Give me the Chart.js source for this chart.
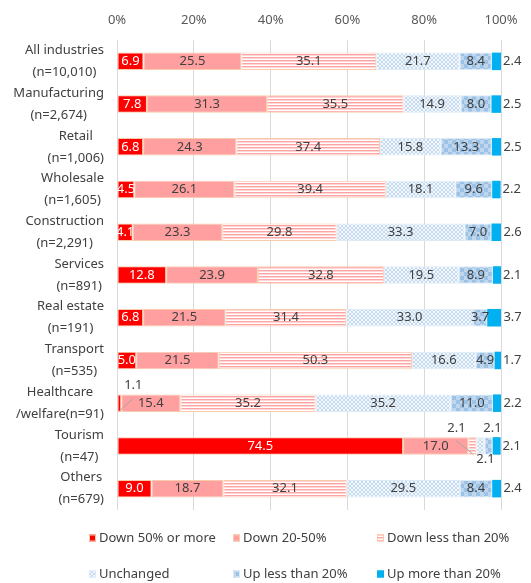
<!DOCTYPE html>
<html>
<head>
<meta charset="utf-8">
<script src="https://cdn.jsdelivr.net/npm/chart.js@4.4.1/dist/chart.umd.min.js"></script>
<style>
  html, body { margin: 0; padding: 0; background: #ffffff; }
  #wrap { width: 531px; height: 583px; position: relative; }
</style>
</head>
<body>
<div id="wrap"><canvas id="c" width="531" height="583"></canvas></div>
<script>
// Industries (two-line labels) and the share of firms per sales-change band, in %
const industries = [
  ["All industries", "(n=10,010)"],
  ["Manufacturing", "(n=2,674)"],
  ["Retail", "(n=1,006)"],
  ["Wholesale", "(n=1,605)"],
  ["Construction", "(n=2,291)"],
  ["Services", "(n=891)"],
  ["Real estate", "(n=191)"],
  ["Transport", "(n=535)"],
  ["Healthcare", "/welfare(n=91)"],
  ["Tourism", "(n=47)"],
  ["Others", "(n=679)"]
];
const down50OrMore   = [6.9, 7.8, 6.8, 4.5, 4.1, 12.8, 6.8, 5.0, 1.1, 74.5, 9.0];
const down20to50     = [25.5, 31.3, 24.3, 26.1, 23.3, 23.9, 21.5, 21.5, 15.4, 17.0, 18.7];
const downUnder20    = [35.1, 35.5, 37.4, 39.4, 29.8, 32.8, 31.4, 50.3, 35.2, 2.1, 32.1];
const unchanged      = [21.7, 14.9, 15.8, 18.1, 33.3, 19.5, 33.0, 16.6, 35.2, 2.1, 29.5];
const upUnder20      = [8.4, 8.0, 13.3, 9.6, 7.0, 8.9, 3.7, 4.9, 11.0, 2.1, 8.4];
const upOver20       = [2.4, 2.5, 2.5, 2.2, 2.6, 2.1, 3.7, 1.7, 2.2, 2.1, 2.4];
const seriesNames = ["Down 50% or more", "Down 20-50%", "Down less than 20%",
                     "Unchanged", "Up less than 20%", "Up more than 20%"];
const tickValues = [0, 20, 40, 60, 80, 100];

const FONT = "'Noto Sans', 'DejaVu Sans', sans-serif";
const TEXT = '#404040';

const canvas = document.getElementById('c');
const ctx = canvas.getContext('2d');

// small tiles for the patterned fills
function makeTile(w, h, paint) {
  const t = document.createElement('canvas');
  t.width = w; t.height = h;
  paint(t.getContext('2d'));
  return ctx.createPattern(t, 'repeat');
}
const stripeFill = makeTile(1, 3, g => {
  g.fillStyle = '#ffffff'; g.fillRect(0, 0, 1, 3);
  g.fillStyle = '#FFA4A4'; g.fillRect(0, 0, 1, 1);
  g.fillStyle = '#FFD6D6'; g.fillRect(0, 1, 1, 1);
});
const meshFill = makeTile(4, 4, g => {
  g.fillStyle = '#F4F8FD'; g.fillRect(0, 0, 4, 4);
  g.fillStyle = '#C3DAF0';
  for (let i = 0; i < 4; i++) { g.fillRect(i, i, 1, 1); g.fillRect(3 - i, i, 1, 1); }
});
const checkFill = makeTile(8, 8, g => {
  g.fillStyle = '#BED6EE'; g.fillRect(0, 0, 8, 8);
  g.fillStyle = '#9CC2E6'; g.fillRect(0, 0, 4, 4); g.fillRect(4, 4, 4, 4);
});

const seriesValues = [down50OrMore, down20to50, downUnder20, unchanged, upUnder20, upOver20];
const fills   = ['#FF0000', '#FF9F9F', stripeFill, meshFill, checkFill, '#00B0F0'];
const borders = ['#F8CBAD', '#F8CBAD', '#F8CBAD', '#DDEBF7', '#DDEBF7', '#00B0F0'];

// labels that sit off their slice: offsets from slice centre, optional leader line
const callouts = {
  '0,8': { dx: 14, dy: -18, line: true },
  '2,9': { dx: -16, dy: -18, line: true },
  '3,9': { dx: 5, dy: 13 },
  '4,9': { dx: 4, dy: -18 }
};

const valueLabels = {
  id: 'valueLabels',
  afterDatasetsDraw(chart) {
    const c = chart.ctx;
    c.save();
    c.font = '13px ' + FONT;
    c.textBaseline = 'middle';
    chart.data.datasets.forEach((ds, di) => {
      const meta = chart.getDatasetMeta(di);
      meta.data.forEach((bar, i) => {
        const v = ds.data[i];
        const p = bar.getProps(['x', 'y', 'base', 'height'], true);
        const cx = (p.x + p.base) / 2;
        const txt = v.toFixed(1);
        const co = callouts[di + ',' + i];
        if (di === seriesValues.length - 1) {
          c.fillStyle = TEXT; c.textAlign = 'left';
          c.fillText(txt, p.x + 2, p.y);
        } else if (co) {
          const lx = cx + co.dx, ly = p.y + co.dy;
          if (co.line) {
            c.strokeStyle = '#A6A6A6'; c.lineWidth = 1;
            c.beginPath();
            c.moveTo(lx, ly + 13);
            c.lineTo(cx, p.y + p.height / 2 - 1);
            c.stroke();
          }
          c.fillStyle = TEXT; c.textAlign = 'center';
          c.fillText(txt, lx, ly);
        } else {
          c.fillStyle = di === 0 ? '#ffffff' : TEXT;
          c.textAlign = 'center';
          c.fillText(txt, cx, p.y);
        }
      });
    });
    c.restore();
  }
};

// category labels: each block right-aligned, its lines centred on one another
const categoryLabels = {
  id: 'categoryLabels',
  afterDraw(chart) {
    const c = chart.ctx;
    const ys = chart.scales.y;
    c.save();
    c.font = '13px ' + FONT;
    c.fillStyle = TEXT;
    c.textAlign = 'center';
    c.textBaseline = 'middle';
    const right = ys.right - 13;
    chart.data.labels.forEach((lines, i) => {
      const y = ys.getPixelForValue(i);
      const w = Math.max(...lines.map(l => c.measureText(l).width));
      const mid = right - w / 2;
      const lh = 22;
      lines.forEach((l, k) => {
        c.fillText(l, mid, y + (k - (lines.length - 1) / 2) * lh);
      });
    });
    c.restore();
  }
};

// legend in a fixed three-column grid under the plot
const gridLegend = {
  id: 'gridLegend',
  afterDraw(chart) {
    const c = chart.ctx;
    const cols = [89, 233, 377];
    const rows = [chart.chartArea.bottom + 28, chart.chartArea.bottom + 64];
    c.save();
    c.font = '13px ' + FONT;
    c.textBaseline = 'middle';
    c.textAlign = 'left';
    chart.data.datasets.forEach((ds, di) => {
      const x = cols[di % 3], y = rows[Math.floor(di / 3)];
      c.fillStyle = ds.backgroundColor;
      c.fillRect(x, y - 3.5, 7, 7);
      c.strokeStyle = ds.borderColor; c.lineWidth = 1;
      c.strokeRect(x + 0.5, y - 3, 6, 6);
      c.fillStyle = TEXT;
      c.fillText(ds.label, x + 10, y);
    });
    c.restore();
  }
};

new Chart(canvas, {
  type: 'bar',
  data: {
    labels: industries,
    datasets: seriesNames.map((name, k) => ({
      label: name,
      data: seriesValues[k],
      backgroundColor: fills[k],
      borderColor: borders[k],
      borderWidth: k === 5 ? 0 : 1,
      borderSkipped: false,
      barPercentage: 0.41,
      categoryPercentage: 1
    }))
  },
  options: {
    indexAxis: 'y',
    responsive: false,
    animation: false,
    devicePixelRatio: 1,
    layout: { padding: { left: 0, right: 30, top: 0, bottom: 73 } },
    plugins: { legend: { display: false }, tooltip: { enabled: false } },
    scales: {
      x: {
        position: 'top',
        stacked: true,
        min: 0, max: 100,
        afterBuildTicks: s => { s.ticks = tickValues.map(v => ({ value: v })); },
        afterFit: s => { s.height = 40; },
        ticks: {
          callback: v => v + '%',
          color: '#595959',
          font: { family: FONT, size: 13 },
          padding: 12,
          maxRotation: 0
        },
        grid: { color: '#D9D9D9', drawTicks: false, lineWidth: 1 },
        border: { display: false }
      },
      y: {
        stacked: true,
        afterFit: s => { s.width = 117; },
        ticks: { display: false },
        grid: { display: false },
        border: { display: false }
      }
    }
  },
  plugins: [valueLabels, categoryLabels, gridLegend]
});
</script>
</body>
</html>
